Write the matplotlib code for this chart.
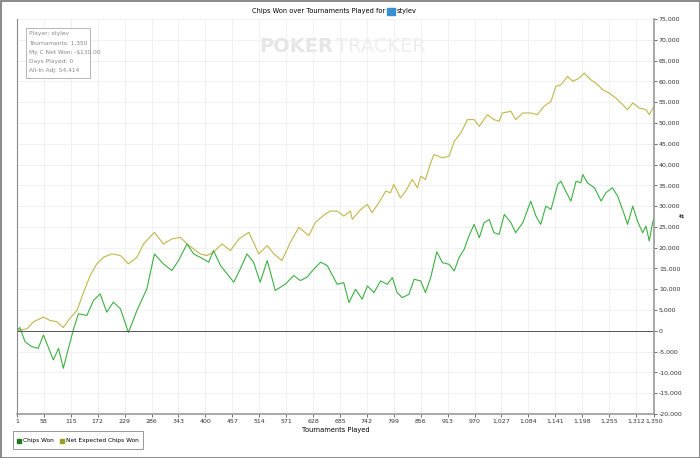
import matplotlib
matplotlib.use("Agg")
import matplotlib.pyplot as plt
from matplotlib.patches import Rectangle

won_t = [1,7,18,32,46,57,78,89,99,110,121,131,149,163,177,191,205,220,237,255,276,292,311,329,343,361,375,389,407,417,432,446,460,474,488,502,516,531,548,570,587,601,615,630,644,658,
         679,693,704,718,732,743,757,771,785,796,806,817,831,842,856,866,877,890,902,916,927,937,948,958,969,980,990,1001,1011,1022,1033,1047,1057,1072,1089,1100,1110,1121,1132,1146,1153,1163,1174,1185,1195,1199,1209,1224,1238,1248,1262,1273,1287,1294,1305,1315,1326,1333,1340,1347,1350]
won_v = [0,800,-2600,-3800,-4200,-1000,-7000,-4200,-9000,-4200,500,4100,3700,7300,8900,4500,6900,5300,-400,4900,10100,18500,16100,14500,16900,20900,18500,17700,16500,19300,15700,13700,11700,14900,18500,16500,11700,16900,9700,11300,13300,12100,12900,14900,16500,15700,
         11200,11600,6800,10000,7600,10800,9200,12000,11200,12800,9200,8000,8800,12400,12000,9200,12800,19000,16400,16000,14400,17600,19600,22800,25600,22400,26000,26800,23600,23200,28000,26000,23600,26000,31200,27600,25600,30000,29200,35200,36000,33600,31200,36000,35600,37600,35600,34400,31200,33200,34400,32400,28000,25600,30000,26400,23600,25200,21600,26000,27200]

exp_t = [1,22,36,57,71,85,99,113,128,142,156,170,184,202,220,237,255,269,292,311,329,347,361,375,389,403,417,435,453,471,492,513,531,545,562,580,598,619,633,654,
         665,679,693,707,711,729,743,753,767,782,792,799,813,824,838,849,856,866,877,884,902,916,927,941,955,969,980,997,1011,1022,1029,1047,1057,1072,1089,1103,1117,1132,1142,1153,1167,1178,1192,1202,1216,1231,1241,1255,1269,1280,1294,1305,1319,1333,1340,1350]
exp_v = [0,500,2200,3300,2500,2200,800,3000,4900,9300,13300,16100,17700,18500,18100,16100,17700,20900,23700,20900,22100,22500,20900,19700,18500,18100,18900,20900,19300,22100,23700,18500,20500,18500,16900,21300,24900,22900,26100,28100,
         28800,28800,27600,28800,26800,29200,30400,28400,30800,33600,33200,35200,32000,33600,36400,34400,37200,36400,40400,42400,41600,42000,45600,47600,50800,50800,49200,52000,50800,50400,52400,52800,50800,52400,52400,52000,54000,55200,58800,59200,61200,60000,60800,62000,60400,59200,58000,57200,56000,54800,53200,54800,53600,53200,52000,54000]

x_ticks = [1,58,115,172,229,286,343,400,457,514,571,628,685,742,799,856,913,970,1027,1084,1141,1198,1255,1312,1350]
y_ticks = list(range(-20000, 75001, 5000))
info_lines = ["Player: stylev", "Tournaments: 1,350", "My C Net Won: -$130.00", "Days Played: 0", "All-In Adj: 54,414"]

W, H = 700, 458
fig = plt.figure(figsize=(W/100, H/100), dpi=100)
fig.patches.append(Rectangle((0.5/W, 0.5/H), 1-1/W, 1-1/H, transform=fig.transFigure,
                             fill=False, edgecolor="#777777", lw=1.2))
ax = fig.add_axes([17/W, 1-414/H, (654-17)/W, (414-19)/H])
ax.plot(exp_t, exp_v, color="#c2b64a", lw=0.8)
ax.plot(won_t, won_v, color="#3cb043", lw=0.8)
ax.axhline(0, color="#555555", lw=0.7)
ax.set_xlim(1, 1350)
ax.set_ylim(-20000, 75000)
ax.set_xticks(x_ticks)
ax.set_xticklabels([f"{t:,}" for t in x_ticks])
ax.set_yticks(y_ticks)
ax.set_yticklabels([f"{v:,}" for v in y_ticks])
ax.yaxis.tick_right()
ax.tick_params(labelsize=4.5, length=2, width=0.5, colors="#333333", pad=1.5)
ax.grid(True, color="#ececec", lw=0.5)
ax.spines["top"].set_visible(False)
ax.spines["left"].set_color("#888888")
for s in ["right", "bottom"]:
    ax.spines[s].set_color("#999999")
    ax.spines[s].set_linewidth(1.2)
ax.set_xlabel("Tournaments Played", fontsize=4.8, labelpad=2)
fig.text(682/W, 1-215/H, "#", fontsize=4.8, rotation=90, ha="center", va="center")

fig.text(385/W, 1-11/H, "Chips Won over Tournaments Played for", fontsize=4.8, ha="right", va="center")
fig.patches.append(Rectangle((387/W, 1-15/H), 8/W, 7/H, transform=fig.transFigure, color="#3a8fd0"))
fig.text(397/W, 1-11/H, "stylev", fontsize=4.8, ha="left", va="center")

ax.text(0.38, 0.93, "POKER", transform=ax.transAxes, fontsize=14, fontweight="bold", color="#e6e6e6", va="center")
ax.text(0.50, 0.93, "TRACKER", transform=ax.transAxes, fontsize=14, color="#eeeeee", va="center")

fig.patches.append(Rectangle((26/W, 1-78/H), 64/W, 50/H, transform=fig.transFigure,
                             fill=True, facecolor="white", edgecolor="#aaaaaa", lw=0.6))
for i, line in enumerate(info_lines):
    fig.text(29/W, 1-(34+i*9.2)/H, line, fontsize=4.2, color="#888888", va="center")

fig.patches.append(Rectangle((13/W, 1-449/H), 130/W, 18/H, transform=fig.transFigure,
                             fill=False, edgecolor="#888888", lw=0.6))
fig.patches.append(Rectangle((17/W, 1-443/H), 4/W, 4/H, transform=fig.transFigure, color="#1f7a1f"))
fig.text(23/W, 1-440.5/H, "Chips Won", fontsize=4.2, va="center")
fig.patches.append(Rectangle((60/W, 1-443/H), 4/W, 4/H, transform=fig.transFigure, color="#9a9a2a"))
fig.text(66/W, 1-440.5/H, "Net Expected Chips Won", fontsize=4.2, va="center")

fig.savefig("out.png", dpi=100)
